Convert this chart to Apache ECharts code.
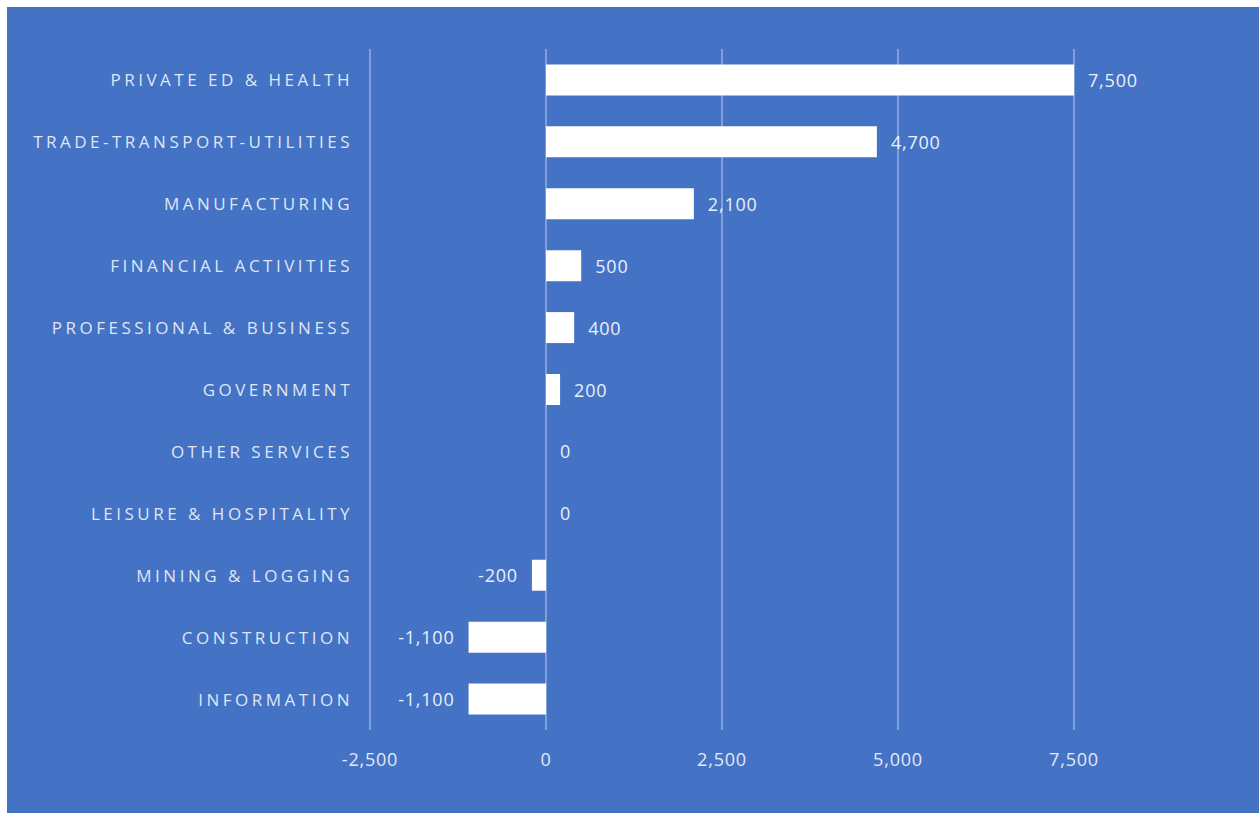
<!DOCTYPE html>
<html>
<head>
<meta charset="utf-8">
<script src="https://cdn.jsdelivr.net/npm/echarts@6/dist/echarts.min.js"></script>
<style>
  html, body { margin: 0; padding: 0; background: #ffffff; }
  #chart { position: absolute; left: 7px; top: 7px; width: 1252px; height: 806px; background: #4472C4; }
</style>
</head>
<body>
<div id="chart"></div>
<script>
const categories = [
  'PRIVATE ED & HEALTH',
  'TRADE-TRANSPORT-UTILITIES',
  'MANUFACTURING',
  'FINANCIAL ACTIVITIES',
  'PROFESSIONAL & BUSINESS',
  'GOVERNMENT',
  'OTHER SERVICES',
  'LEISURE & HOSPITALITY',
  'MINING & LOGGING',
  'CONSTRUCTION',
  'INFORMATION'
];
const values = [7500, 4700, 2100, 500, 400, 200, 0, 0, -200, -1100, -1100];
const axisMin = -2500;
const axisMax = 7500;
const axisStep = 2500;

const fmt = v => Number(v).toLocaleString('en-US');

const chart = echarts.init(document.getElementById('chart'), null, { renderer: 'svg' });
chart.setOption({
  animation: false,
  backgroundColor: '#4472C4',
  grid: { left: 363, right: 185, top: 42, bottom: 83, containLabel: false },
  xAxis: {
    type: 'value',
    min: axisMin,
    max: axisMax,
    interval: axisStep,
    axisLine: { show: false },
    axisTick: { show: false },
    splitLine: { show: true, lineStyle: { color: 'rgba(255,255,255,0.32)', width: 2 } },
    axisLabel: {
      color: '#e3e9f5',
      fontFamily: 'Open Sans',
      fontSize: 18,
      margin: 20,
      formatter: fmt
    }
  },
  yAxis: {
    type: 'category',
    inverse: true,
    data: categories,
    axisLine: { show: false },
    axisTick: { show: false },
    splitLine: { show: false },
    axisLabel: {
      color: '#dfe6f4',
      fontFamily: 'Open Sans',
      fontSize: 17,
      margin: 17
    }
  },
  series: [{
    type: 'bar',
    data: values.map(v => ({
      value: v,
      label: { position: v < 0 ? 'left' : 'right' }
    })),
    barWidth: 31,
    itemStyle: { color: '#ffffff' },
    label: {
      show: true,
      distance: 14,
      color: '#eaf0f9',
      fontFamily: 'Open Sans',
      fontSize: 18,
      formatter: p => fmt(p.value)
    }
  }]
});

function applySpacing() {
  const texts = document.querySelectorAll('#chart svg text');
  texts.forEach(t => {
    if (categories.includes(t.textContent)) {
      t.style.letterSpacing = '3.5px';
    } else {
      t.style.letterSpacing = '0.8px';
    }
  });
}
chart.on('finished', applySpacing);
applySpacing();
</script>
</body>
</html>
